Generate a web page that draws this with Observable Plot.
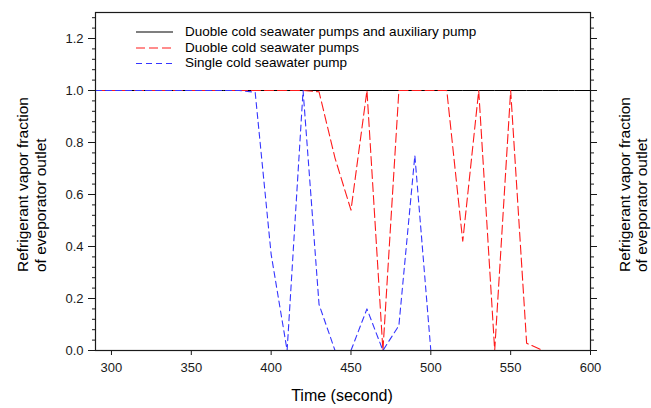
<!DOCTYPE html>
<html>
<head>
<meta charset="utf-8">
<script src="https://cdn.jsdelivr.net/npm/d3@7"></script>
<script src="https://cdn.jsdelivr.net/npm/@observablehq/plot@0.6"></script>
<style>
  html, body { margin: 0; padding: 0; background: #fff; }
  #chart svg { display: block; }
</style>
</head>
<body>
<div id="chart"></div>
<script>
// ---- data ----
const times = [290, 300, 310, 320, 330, 340, 350, 360, 370, 380, 390, 400, 410, 420, 430, 440,
               450, 460, 470, 480, 490, 500, 510, 520, 530, 540, 550, 560, 570, 580, 590, 600];
const auxPump = [1, 1, 1, 1, 1, 1, 1, 1, 1, 1, 1, 1, 1, 1, 1, 1,
                 1, 1, 1, 1, 1, 1, 1, 1, 1, 1, 1, 1, 1, 1, 1, 1];
const doublePumps = [1, 1, 1, 1, 1, 1, 1, 1, 1, 1, 1, 1, 1, 1, 0.995, 0.74,
                     0.54, 1, 0, 1, 1, 1, 1, 0.42, 1, 0, 1, 0.028, 0, 0, 0, 0];
const singlePump = [1, 1, 1, 1, 1, 1, 1, 1, 1, 1, 0.993, 0.37, 0, 1, 0.177, 0,
                    0, 0.16, 0, 0.096, 0.75, 0, 0, 0, 0, 0, 0, 0, 0, 0, 0, 0];
const seriesNames = ["Duoble cold seawater pumps and auxiliary pump",
                     "Duoble cold seawater pumps",
                     "Single cold seawater pump"];
const xTicks = [300, 350, 400, 450, 500, 550, 600];
const yTicks = [0, 0.2, 0.4, 0.6, 0.8, 1.0, 1.2];
const yMinorTicks = [0.04, 0.08, 0.12, 0.16, 0.24, 0.28, 0.32, 0.36, 0.44, 0.48, 0.52, 0.56,
                     0.64, 0.68, 0.72, 0.76, 0.84, 0.88, 0.92, 0.96, 1.04, 1.08, 1.12, 1.16,
                     1.24, 1.28];
const xLabel = "Time (second)";
const yLabel = ["Refrigerant vapor fraction", "of eveporator outlet"];

// ---- tables ----
const toRows = (vals) => times.map((t, i) => ({t, v: vals[i]}));
const auxRows = toRows(auxPump);
const doubleRows = toRows(doublePumps);
const singleRows = toRows(singlePump);

const styles = [
  {stroke: "#000000", dash: null},
  {stroke: "#ff1a1a", dash: "9,4"},
  {stroke: "#3535ff", dash: "6,4"}
];

const axisColor = "#1a1a1a";
const plot = Plot.plot({
  width: 651,
  height: 408,
  marginLeft: 95,
  marginRight: 61,
  marginTop: 12,
  marginBottom: 58,
  style: {fontFamily: "'Liberation Sans', Arial, sans-serif", fontSize: "13px", color: axisColor, background: "#fff"},
  x: {domain: [290, 600], label: null},
  y: {domain: [0, 1.3], label: null},
  marks: [
    Plot.axisX({ticks: xTicks, tickSize: 5, tickPadding: 7, label: null, tickFormat: d => String(d)}),
    Plot.axisY({anchor: "left", ticks: yTicks, tickSize: 7, tickPadding: 5, label: null, tickFormat: d => d.toFixed(1)}),
    Plot.axisY({anchor: "left", ticks: yMinorTicks, tickSize: 3, label: null, tickFormat: () => ""}),
    Plot.axisY({anchor: "right", ticks: yTicks, tickSize: 6, label: null, tickFormat: () => ""}),
    Plot.axisY({anchor: "right", ticks: yMinorTicks, tickSize: 3, label: null, tickFormat: () => ""}),
    Plot.line(auxRows, {x: "t", y: "v", stroke: styles[0].stroke, strokeWidth: 1}),
    Plot.line(doubleRows, {x: "t", y: "v", stroke: styles[1].stroke, strokeWidth: 1.1, strokeDasharray: styles[1].dash}),
    Plot.line(singleRows, {x: "t", y: "v", stroke: styles[2].stroke, strokeWidth: 1.1, strokeDasharray: styles[2].dash}),
    Plot.frame({stroke: axisColor, strokeWidth: 1.2})
  ]
});
document.getElementById("chart").appendChild(plot);

// ---- annotations: titles and legend ----
const svg = d3.select(plot);
const font = "'Liberation Sans', Arial, sans-serif";

svg.append("text")
  .attr("x", 342).attr("y", 397)
  .attr("text-anchor", "middle").attr("dominant-baseline", "middle")
  .style("font-family", font).style("font-size", "16px").attr("fill", "#000")
  .text(xLabel);

const titleCenters = [[24, 42], [626, 643]];
titleCenters.forEach(([x1, x2]) => {
  [x1, x2].forEach((x, i) => {
    svg.append("text")
      .attr("transform", `translate(${x},${272}) rotate(-90)`)
      .attr("text-anchor", "start").attr("dominant-baseline", "middle")
      .style("font-family", font).style("font-size", "15.5px").attr("fill", "#000")
      .text(yLabel[i]);
  });
});

const legendY = [32, 48, 63.5];
const lg = svg.append("g");
seriesNames.forEach((name, i) => {
  lg.append("line")
    .attr("x1", 136).attr("x2", 173).attr("y1", legendY[i]).attr("y2", legendY[i])
    .attr("stroke", styles[i].stroke).attr("stroke-width", 1.2)
    .attr("stroke-dasharray", styles[i].dash);
  lg.append("text")
    .attr("x", 185).attr("y", legendY[i])
    .attr("text-anchor", "start").attr("dominant-baseline", "middle")
    .style("font-family", font).style("font-size", "13.5px").attr("fill", "#000")
    .text(name);
});
</script>
</body>
</html>
